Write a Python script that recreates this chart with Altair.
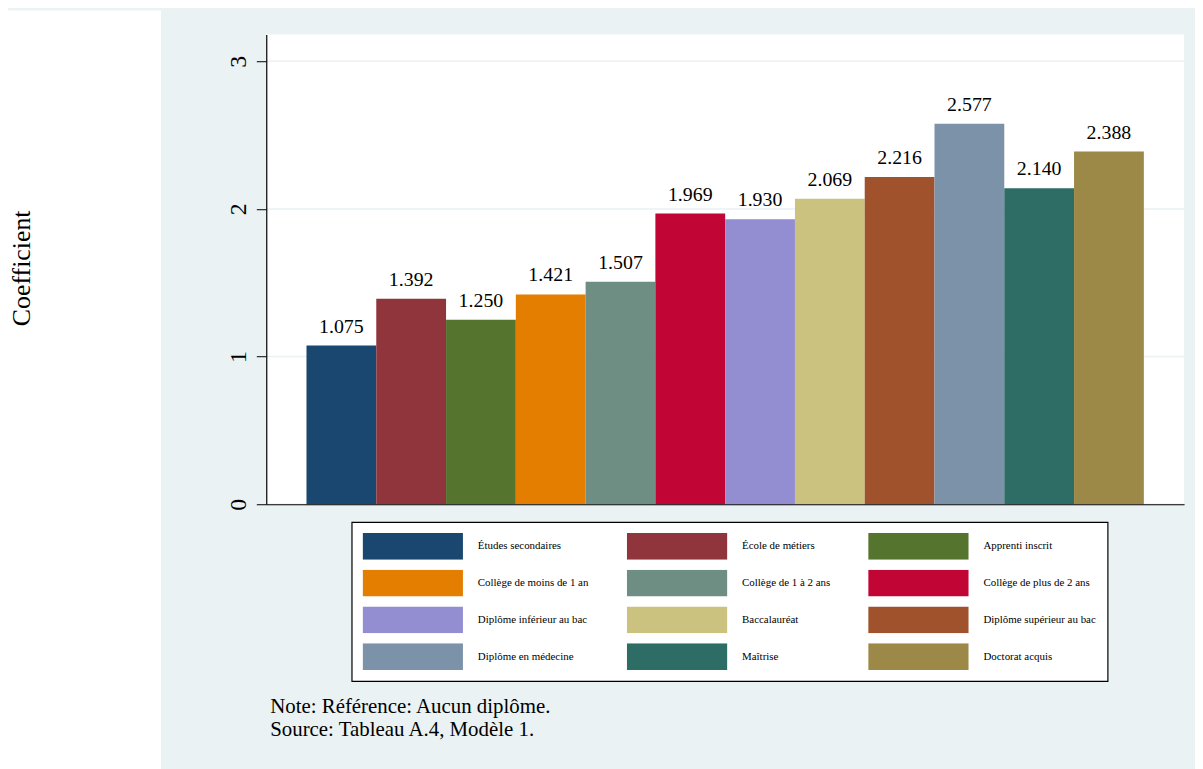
import altair as alt
import pandas as pd

categories = [
    "Études secondaires", "École de métiers", "Apprenti inscrit",
    "Collège de moins de 1 an", "Collège de 1 à 2 ans", "Collège de plus de 2 ans",
    "Diplôme inférieur au bac", "Baccalauréat", "Diplôme supérieur au bac",
    "Diplôme en médecine", "Maîtrise", "Doctorat acquis",
]
values = [1.075, 1.392, 1.250, 1.421, 1.507, 1.969, 1.930, 2.069, 2.216, 2.577, 2.140, 2.388]
colors = [
    "#1A476F", "#90353B", "#55752F", "#E37E00", "#6E8E84", "#C10534",
    "#938DD2", "#CAC27E", "#A0522D", "#7B92A8", "#2D6D66", "#9C8847",
]
y_ticks = [0, 1, 2, 3]
y_title = "Coefficient"
note_lines = ["Note: Référence: Aucun diplôme.", "Source: Tableau A.4, Modèle 1."]

FONT = "Liberation Serif"
BG = "#EAF2F3"
W, H = 924, 473

bars_df = pd.DataFrame({"cat": categories, "value": values})
grid_df = pd.DataFrame({"value": y_ticks})
one_df = pd.DataFrame({"a": [0]})

yscale = alt.Scale(domain=[0, 3.1816], nice=False, zero=True)
yaxis = alt.Axis(
    values=y_ticks, title=y_title, grid=False, zindex=1,
    domainColor="black", domainWidth=1.2, tickColor="black", tickSize=10, tickWidth=1,
    labelAngle=270, labelFont=FONT, labelFontSize=24, labelColor="black", labelPadding=6,
    titleFont=FONT, titleFontSize=26, titleFontWeight="normal", titleColor="black",
    titleAngle=270, titleX=-246, titleY=235, titleAlign="center", titleBaseline="middle",
)
xscale = alt.Scale(domain=categories, paddingInner=0, paddingOuter=0.5765)
xaxis = alt.Axis(labels=False, ticks=False, title=None, grid=False,
                 domainColor="black", domainWidth=1.2, zindex=1)

strip = alt.Chart(one_df).mark_rect(color="white").encode(
    x=alt.value(-260), x2=alt.value(-106), y=alt.value(-24), y2=alt.value(745)
)

grid = alt.Chart(grid_df).mark_rule(color=BG, strokeWidth=1.5).encode(
    y=alt.Y("value:Q", scale=yscale, axis=yaxis)
)

bars = alt.Chart(bars_df).mark_bar(strokeWidth=0).encode(
    x=alt.X("cat:N", sort=categories, scale=xscale, axis=xaxis),
    y=alt.Y("value:Q", scale=yscale, axis=yaxis),
    color=alt.Color(
        "cat:N", sort=categories,
        scale=alt.Scale(domain=categories, range=colors),
        legend=alt.Legend(
            title=None, orient="none", legendX=86, legendY=491, direction="horizontal",
            columns=3, columnPadding=38, rowPadding=10, padding=11,
            strokeColor="black", fillColor="white",
            symbolType="M-1,-0.2673L1,-0.2673L1,0.2673L-1,0.2673Z",
            symbolSize=10201, symbolStrokeWidth=0, symbolOpacity=1,
            clipHeight=27, labelFont=FONT, labelFontSize=11, labelColor="black",
            labelOffset=15, labelLimit=300,
        ),
    ),
)

labels = alt.Chart(bars_df).mark_text(
    dy=-13, baseline="alphabetic", fontSize=20, font=FONT, color="black"
).encode(
    x=alt.X("cat:N", sort=categories, scale=xscale, axis=xaxis),
    y=alt.Y("value:Q", scale=yscale, axis=yaxis),
    text=alt.Text("value:Q", format=".3f"),
)

note = alt.Chart(one_df).mark_text(
    align="left", baseline="alphabetic", fontSize=21, font=FONT, color="black", lineHeight=23
).encode(x=alt.value(4), y=alt.value(683), text=alt.value(note_lines))

chart = (
    alt.layer(strip, grid, bars, labels, note)
    .properties(
        width=W, height=H,
        padding={"left": 260, "top": 24, "right": 11, "bottom": 270},
        autosize=alt.AutoSizeParams(type="none"),
        background=BG,
    )
    .configure_view(fill="white", strokeWidth=0)
    .configure_legend(strokeWidth=1.2)
)

chart.save("out.html", embed_options={"renderer": "svg", "actions": False})
